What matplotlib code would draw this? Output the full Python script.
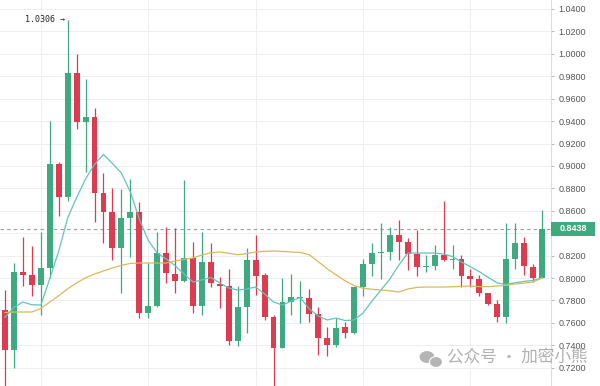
import matplotlib
matplotlib.use('Agg')
import matplotlib.pyplot as plt
import matplotlib.transforms as mtransforms
from matplotlib.patches import Rectangle, Ellipse
import numpy as np

# Data (one candle per entry)
opens = [0.7715, 0.7358, 0.8054, 0.8027, 0.7938, 0.8090, 0.9017, 0.8723, 0.9829, 0.9392,
         0.9437, 0.8759, 0.8589, 0.8268, 0.8536, 0.8589, 0.7688, 0.7751, 0.8223, 0.8036,
         0.7974, 0.8179, 0.7751, 0.8143, 0.7947, 0.7929, 0.7438, 0.7742, 0.8161, 0.8027,
         0.7652, 0.7376, 0.7786, 0.7822, 0.7822, 0.7679, 0.7465, 0.7403, 0.7563, 0.7510,
         0.7920, 0.8125, 0.8223, 0.8232, 0.8384, 0.8322, 0.8214, 0.8098, 0.8107, 0.8206,
         0.8161, 0.8170, 0.8018, 0.7991, 0.7867, 0.7768, 0.7652, 0.8170, 0.8313, 0.8098,
         0.8000]
highs = [0.7893, 0.8134, 0.8366, 0.8286, 0.8411, 0.9401, 0.9035, 1.0306, 0.9999, 0.9776,
         0.9517, 0.8937, 0.8803, 0.8794, 0.8884, 0.8678, 0.8134, 0.8411, 0.8455, 0.8447,
         0.8875, 0.8322, 0.8411, 0.8313, 0.8009, 0.8081, 0.7929, 0.8268, 0.8384, 0.8045,
         0.7670, 0.8000, 0.8036, 0.7974, 0.7902, 0.7742, 0.7563, 0.7643, 0.7608, 0.7920,
         0.8170, 0.8313, 0.8491, 0.8455, 0.8518, 0.8357, 0.8429, 0.8206, 0.8295, 0.8687,
         0.8295, 0.8206, 0.8081, 0.8027, 0.7867, 0.7804, 0.8491, 0.8491, 0.8366, 0.8125,
         0.8603]
lows = [0.7000, 0.7197, 0.7929, 0.7840, 0.7670, 0.8000, 0.8553, 0.8687, 0.9330, 0.8946,
        0.8500, 0.8313, 0.8161, 0.7867, 0.8188, 0.7643, 0.7643, 0.7745, 0.7956, 0.7867,
        0.7965, 0.7688, 0.7670, 0.7920, 0.7733, 0.7403, 0.7394, 0.7510, 0.7849, 0.7626,
        0.7000, 0.7376, 0.7670, 0.7599, 0.7608, 0.7313, 0.7305, 0.7385, 0.7465, 0.7501,
        0.7840, 0.8018, 0.7991, 0.8161, 0.8161, 0.8072, 0.8018, 0.8054, 0.8072, 0.8152,
        0.8081, 0.7920, 0.7920, 0.7840, 0.7760, 0.7608, 0.7599, 0.8081, 0.8027, 0.7965,
        0.8000]
closes = [0.7358, 0.8054, 0.8027, 0.7938, 0.8090, 0.9017, 0.8723, 0.9829, 0.9392, 0.9437,
          0.8759, 0.8589, 0.8268, 0.8536, 0.8589, 0.7688, 0.7751, 0.8223, 0.8045, 0.7974,
          0.8179, 0.7751, 0.8143, 0.7956, 0.7929, 0.7438, 0.7742, 0.8161, 0.8018, 0.7652,
          0.7376, 0.7786, 0.7831, 0.7831, 0.7679, 0.7465, 0.7403, 0.7554, 0.7510, 0.7920,
          0.8125, 0.8223, 0.8232, 0.8384, 0.8322, 0.8214, 0.8098, 0.8105, 0.8206, 0.8161,
          0.8170, 0.8018, 0.7991, 0.7867, 0.7768, 0.7652, 0.8170, 0.8313, 0.8107, 0.8000,
          0.8438]

# moving averages as drawn in the reference
ma_fast = [0.7651, 0.7738, 0.7786, 0.7762, 0.7759, 0.7994, 0.8241, 0.8536, 0.8717, 0.8885,
           0.9013, 0.9102, 0.9022, 0.8937, 0.8768, 0.8527, 0.8336, 0.8223, 0.8170, 0.8111,
           0.8036, 0.7965, 0.7983, 0.8005, 0.7956, 0.7911, 0.7893, 0.7902, 0.7920, 0.7858,
           0.7786, 0.7759, 0.7795, 0.7826, 0.7724, 0.7661, 0.7626, 0.7643, 0.7621, 0.7626,
           0.7688, 0.7795, 0.7893, 0.7991, 0.8116, 0.8223, 0.8223, 0.8223, 0.8223, 0.8214,
           0.8192, 0.8143, 0.8100, 0.8057, 0.8005, 0.7956, 0.7942, 0.7958, 0.7970, 0.7979,
           0.8000]
ma_slow = [0.7692, 0.7697, 0.7697, 0.7697, 0.7728, 0.7786, 0.7842, 0.7904, 0.7956, 0.8002,
           0.8036, 0.8063, 0.8090, 0.8112, 0.8131, 0.8134, 0.8134, 0.8134, 0.8134, 0.8152,
           0.8166, 0.8179, 0.8206, 0.8226, 0.8232, 0.8221, 0.8208, 0.8218, 0.8232, 0.8238,
           0.8241, 0.8237, 0.8232, 0.8228, 0.8208, 0.8146, 0.8083, 0.8027, 0.7975, 0.7933,
           0.7909, 0.7900, 0.7893, 0.7886, 0.7875, 0.7902, 0.7916, 0.7920, 0.7920, 0.7920,
           0.7922, 0.7925, 0.7929, 0.7923, 0.7923, 0.7929, 0.7935, 0.7947, 0.7954, 0.7965,
           0.8000]

last_price = 0.8438
peak_price = 1.0306
price_ticks = np.arange(0.72, 1.0401, 0.02)

green = '#3fa97f'
red = '#dc3b50'

fig = plt.figure(figsize=(6, 3.86), dpi=100)
ax = fig.add_axes([0, 0, 551 / 600, 1])

x = np.arange(len(opens))
o = np.array(opens)
c = np.array(closes)
colors = [green if cc >= oo else red for oo, cc in zip(o, c)]
bottoms = np.minimum(o, c)
heights = np.maximum(np.abs(c - o), 0.0009)

ax.vlines(x, lows, highs, colors=colors, linewidth=0.9, zorder=2)
ax.bar(x, heights, bottom=bottoms, width=0.66, color=colors, linewidth=0, zorder=2)

ax.plot(x, ma_fast, color='#63c3bd', lw=0.9, zorder=3)
ax.plot(x, ma_slow, color='#d8b95c', lw=0.9, zorder=3)
ax.axhline(last_price, color='#9a9a9a', ls=(0, (3, 3)), lw=0.8, zorder=1)

ax.set_xlim(-0.56, 61.0)
ax.set_ylim(0.7037, 1.048)

# grid
ax.set_xticks(np.arange(4, len(opens), 12))
ax.set_axisbelow(True)
ax.grid(color='#eeeeee', lw=0.7)
ax.tick_params(axis='x', length=0, labelbottom=False)

ax.yaxis.tick_right()
ax.set_yticks(price_ticks)
# the 0.8400 label sits under the last-price tag, so it is left blank
ax.set_yticklabels(['' if abs(v - 0.84) < 1e-6 else '%.4f' % v for v in price_ticks])
ax.tick_params(axis='y', length=2.5, width=0.6, color='#aaaaaa', labelsize=6.5,
               labelcolor='#555555', pad=3)
for lbl in ax.get_yticklabels():
    lbl.set_family('Liberation Sans')
for s in ['left', 'top', 'bottom']:
    ax.spines[s].set_visible(False)
ax.spines['right'].set_color('#dcdcdc')
ax.spines['right'].set_linewidth(0.8)

# last price tag
trans = mtransforms.blended_transform_factory(ax.transAxes, ax.transData)
ax.add_patch(Rectangle((1.0, last_price - 0.0063), 0.08, 0.0126, transform=trans,
                       facecolor=green, edgecolor='none', clip_on=False, zorder=5))
ax.text(1.04, last_price, '%.4f' % last_price, transform=trans, ha='center', va='center',
        color='white', fontsize=6.5, fontweight='bold', family='Liberation Sans',
        clip_on=False, zorder=6)

# peak marker
peak_i = int(np.argmax(highs))
ax.annotate('%.4f →' % peak_price, xy=(peak_i, peak_price), xytext=(-2, 0),
            textcoords='offset points', ha='right', va='center', fontsize=6,
            family='DejaVu Sans Mono', color='#222222')

# watermark
fig.patches.append(Ellipse((427 / 600, 1 - 357 / 386), 16 / 600, 13 / 386,
                           transform=fig.transFigure, facecolor='#b5b5b5',
                           edgecolor='white', lw=0.8, zorder=7))
fig.patches.append(Ellipse((436 / 600, 1 - 362 / 386), 13 / 600, 11 / 386,
                           transform=fig.transFigure, facecolor='#b5b5b5',
                           edgecolor='white', lw=0.8, zorder=7))
fig.text(0.745, 1 - 358 / 386, '公众号 · 加密小熊', fontsize=12, color='#b0b0b0',
         family=['Noto Sans CJK SC', 'DejaVu Sans'], va='center', ha='left', zorder=8)

fig.savefig('out.png', dpi=100)
